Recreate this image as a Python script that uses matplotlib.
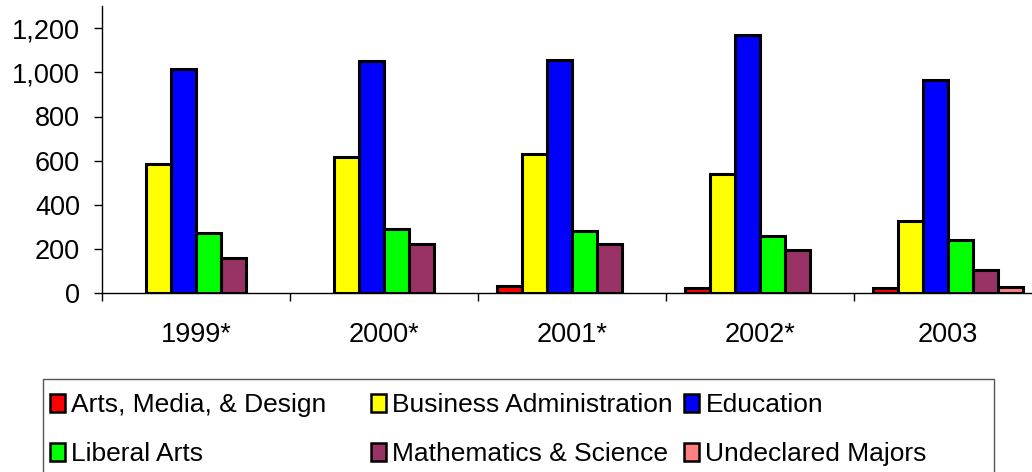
import numpy as np
import matplotlib.pyplot as plt
from matplotlib.patches import Rectangle
from matplotlib.ticker import FuncFormatter

plt.rcParams['font.family'] = ['Liberation Sans', 'DejaVu Sans']

years = ["1999*", "2000*", "2001*", "2002*", "2003"]
majors = ["Arts, Media, & Design", "Business Administration", "Education",
          "Liberal Arts", "Mathematics & Science", "Undeclared Majors"]
colors = ["#FF0000", "#FFFF00", "#0000FF", "#00FF00", "#993366", "#FF8080"]

arts = [0, 0, 34, 24, 22]
business = [584, 619, 631, 539, 326]
education = [1014, 1052, 1057, 1171, 963]
liberal = [274, 291, 284, 261, 243]
math_sci = [158, 222, 225, 198, 106]
undeclared = [0, 0, 0, 0, 27]
series = [arts, business, education, liberal, math_sci, undeclared]

W, H = 1032, 472
FS = 19.5
fig = plt.figure(figsize=(W / 100, H / 100), dpi=100)
ax = fig.add_axes([102 / W, (H - 293.3) / H, 940 / W, 287.3 / H])

x = np.arange(len(years))
bw = 25 / 188
handles = []
for i, (vals, c, name) in enumerate(zip(series, colors, majors)):
    vals = np.array(vals, dtype=float)
    keep = vals > 0
    off = (i - 2.5) * bw
    ax.bar(x[keep] + off, vals[keep], width=bw, color=c, edgecolor="black",
           linewidth=2.2, zorder=2)
    handles.append(Rectangle((0, 0), 1, 1, facecolor=c, edgecolor="black", linewidth=1.8))

ax.set_xlim(-0.5, 4.5)
ax.set_ylim(0, 1300)
ax.set_yticks(np.arange(0, 1201, 200))
ax.yaxis.set_major_formatter(FuncFormatter(lambda v, p: f"{int(v):,}"))
ax.set_xticks(x)
ax.set_xticklabels(years)
ax.set_xticks(np.arange(-0.5, 5, 1), minor=True)
ax.tick_params(axis="x", which="major", length=0, pad=20.5, labelsize=FS)
ax.tick_params(axis="x", which="minor", length=5.8, width=1, direction="out")
ax.tick_params(axis="y", length=5.8, width=1, pad=10, labelsize=FS)
for s in ["top", "right"]:
    ax.spines[s].set_visible(False)
for s in ["left", "bottom"]:
    ax.spines[s].set_linewidth(1)
    ax.spines[s].set_zorder(3)

# legend frame, cut off at the bottom edge
fig.patches.append(Rectangle((43 / W, -0.02), (994 - 43) / W, (H - 379) / H + 0.02,
                             transform=fig.transFigure, fill=False,
                             edgecolor="#555555", linewidth=1))

# three legend columns placed side by side
col_x = [50, 371, 684]
for j in range(3):
    fig.legend([handles[j], handles[j + 3]], [majors[j], majors[j + 3]],
               loc="upper left", bbox_to_anchor=(col_x[j] / W, (H - 393) / H),
               frameon=False, fontsize=19, borderpad=0, borderaxespad=0,
               handlelength=0.56, handleheight=0.69, handletextpad=0.25,
               labelspacing=0.95)

fig.savefig("out.png", dpi=100)
